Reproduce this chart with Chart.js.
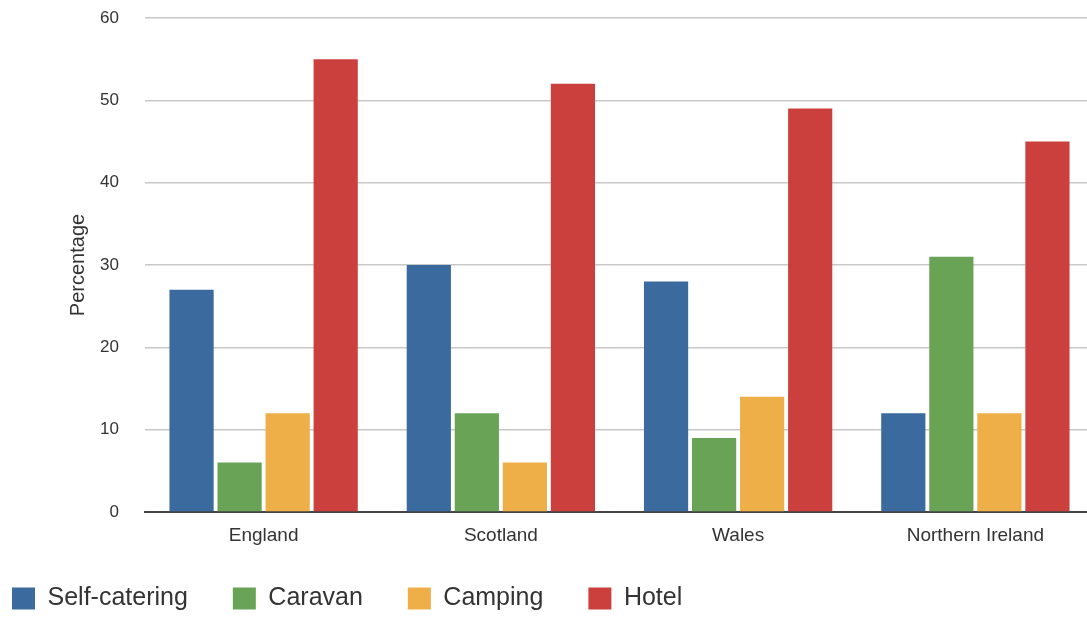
<!DOCTYPE html>
<html>
<head>
<meta charset="utf-8">
<script src="https://cdn.jsdelivr.net/npm/chart.js@4"></script>
<style>
html,body{margin:0;padding:0;background:#fff;overflow:hidden;}
#wrap{position:relative;width:1095px;height:617px;}
</style>
</head>
<body>
<div id="wrap"><canvas id="c"></canvas></div>
<script>
const categories = ["England", "Scotland", "Wales", "Northern Ireland"];
const seriesNames = ["Self-catering", "Caravan", "Camping", "Hotel"];
const selfCatering = [27, 30, 28, 12];
const caravan = [6, 12, 9, 31];
const camping = [12, 6, 14, 12];
const hotel = [55, 52, 49, 45];
const colors = ["#3a6a9e", "#69a456", "#eeae48", "#cb403d"];
const yTicks = [0, 10, 20, 30, 40, 50, 60];

const FONT = "'Liberation Sans', Arial, Helvetica, sans-serif";
const values = [selfCatering, caravan, camping, hotel];

// nudge the legend up so it sits close under the category labels
const legendNudge = {
  id: 'legendNudge',
  afterLayout(chart) {
    const l = chart.legend;
    if (l) { l.top -= 7; l.bottom -= 7; }
  }
};

new Chart(document.getElementById('c'), {
  type: 'bar',
  data: {
    labels: categories,
    datasets: seriesNames.map((n, i) => ({
      label: n,
      data: values[i],
      backgroundColor: colors[i],
      borderWidth: 0,
      barPercentage: 0.92,
      categoryPercentage: 0.81
    }))
  },
  options: {
    responsive: true,
    maintainAspectRatio: false,
    animation: false,
    layout: { padding: { left: -33, right: 1, top: 0, bottom: -11 } },
    plugins: {
      tooltip: { enabled: false },
      legend: {
        position: 'bottom',
        align: 'start',
        labels: {
          boxWidth: 23,
          boxHeight: 22,
          padding: 45,
          color: '#333',
          font: { family: FONT, size: 25 }
        }
      }
    },
    scales: {
      x: {
        afterFit: (s) => { s.height = 36; },
        grid: { display: false, drawTicks: false },
        border: { display: true, color: '#444', width: 2 },
        ticks: { color: '#333', font: { family: FONT, size: 19 }, padding: 12 }
      },
      y: {
        min: 0, max: 60,
        afterFit: (s) => { s.width = 178; s.paddingTop = 18; s.paddingBottom = 0; },
        afterBuildTicks: (axis) => { axis.ticks = yTicks.map(v => ({ value: v })); },
        grid: { color: '#c8c8c8', lineWidth: 1.5, drawTicks: false },
        border: { display: false },
        ticks: { color: '#333', font: { family: FONT, size: 17 }, padding: 26 },
        title: { display: true, text: 'Percentage', color: '#333', font: { family: FONT, size: 20 }, padding: { top: 99, bottom: 4 } }
      }
    }
  },
  plugins: [legendNudge]
});
</script>
</body>
</html>
